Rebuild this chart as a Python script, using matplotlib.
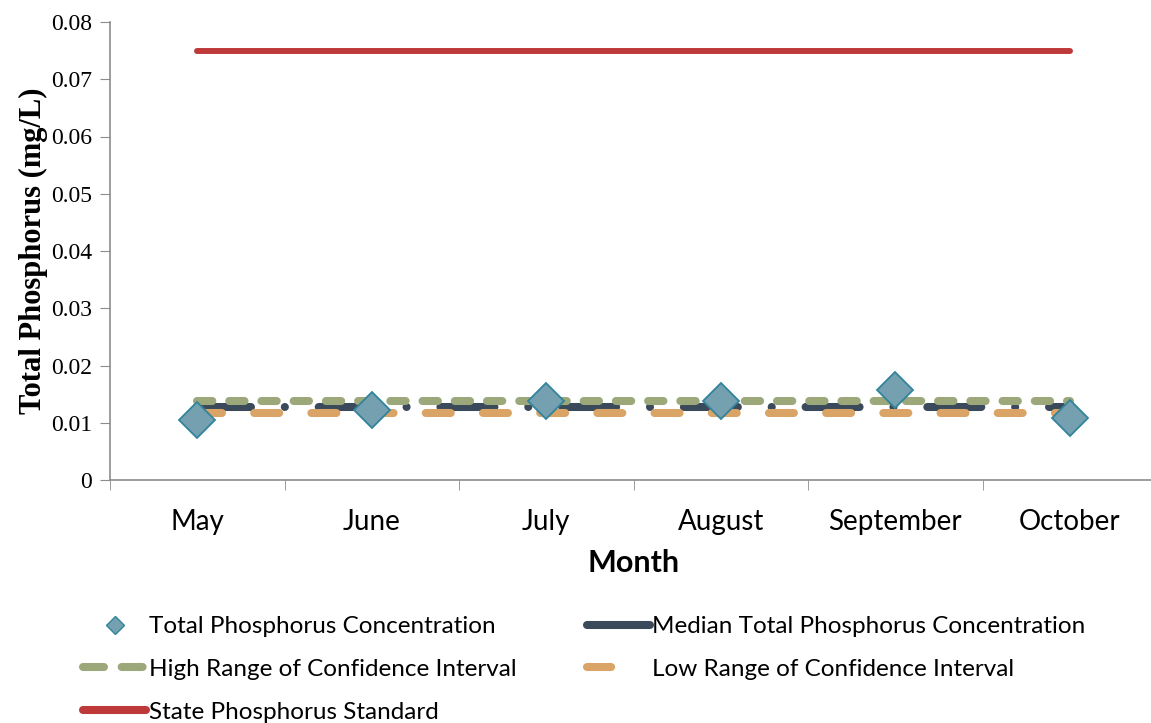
import matplotlib

matplotlib.use("Agg")

import matplotlib.pyplot as plt
import numpy as np

months = ["May", "June", "July", "August", "September", "October"]
tp_conc = [0.0105, 0.0122, 0.0138, 0.0138, 0.0157, 0.0108]
median_tp = [0.0128] * 6
high_ci = [0.0138] * 6
low_ci = [0.0117] * 6
state_std = [0.075] * 6

W, H = 1151, 723
fig = plt.figure(figsize=(W / 100, H / 100), dpi=100)
ax = fig.add_axes([110 / W, 1 - 480 / H, (1157 - 110) / W, (480 - 22) / H])

x = np.arange(len(months))
grey = "#8c8c8c"

c_std, c_hi, c_med, c_lo = "#BE3A3A", "#9CA77A", "#3B4A5A", "#DAA466"
lw = 5.8

h_std, = ax.plot(x, state_std, color=c_std, lw=4.3, solid_capstyle="round",
                 label="State Phosphorus Standard")
h_med, = ax.plot(x, median_tp, color=c_med, lw=lw, dash_capstyle="round",
                 dashes=(6.7, 4.2, 0.01, 4.2), label="Median Total Phosphorus Concentration")
h_hi, = ax.plot(x, high_ci, color=c_hi, lw=lw, dash_capstyle="round",
                dashes=(1.9, 2.1), label="High Range of Confidence Interval")
h_lo, = ax.plot(x, low_ci, color=c_lo, lw=lw, dash_capstyle="round",
                dashes=(3.1, 4.0), label="Low Range of Confidence Interval")
h_tp, = ax.plot(x, tp_conc, ls="none", marker="D", ms=18, mfc="#74A0AF", mec="#31849B",
                mew=1.3, label="Total Phosphorus Concentration", zorder=5)

ax.set_xlim(-0.5, len(months) - 0.5)
ax.set_ylim(0, 0.08)
ax.set_yticks(np.arange(0, 0.081, 0.01))
ax.set_yticklabels(["0"] + [f"{v:.2f}" for v in np.arange(0.01, 0.081, 0.01)],
                   family="Liberation Serif", fontsize=17)
ax.set_xticks(x)
ax.set_xticklabels(months, family="Lato", fontsize=20)
ax.set_xticks(np.arange(-0.5, len(months)), minor=True)
ax.tick_params(axis="x", which="major", length=0, pad=21)
ax.tick_params(axis="x", which="minor", length=7, color=grey)
ax.tick_params(axis="y", length=7, color=grey, pad=6)

for s in ["top", "right"]:
    ax.spines[s].set_visible(False)
for s in ["left", "bottom"]:
    ax.spines[s].set_color(grey)
    ax.spines[s].set_linewidth(1.2)

ax.set_ylabel("Total Phosphorus (mg/L)", family="Liberation Serif", fontsize=22,
              fontweight="bold", labelpad=2)
ax.set_xlabel("Month", family="Lato", fontsize=22, fontweight="bold", labelpad=10)

# legend proxies so each handle looks like the reference key
leg_tp = plt.Line2D([], [], ls="none", marker="D", ms=9, mfc="#74A0AF", mec="#31849B")
leg_hi = plt.Line2D([], [], color=c_hi, lw=lw, dash_capstyle="round", dashes=(2.6, 2.2))
leg_std = plt.Line2D([], [], color=c_std, lw=lw, solid_capstyle="round")
leg_med = plt.Line2D([], [], color=c_med, lw=lw, solid_capstyle="round")
leg_lo = plt.Line2D([], [], color=c_lo, lw=lw, dash_capstyle="round", dashes=(3.0, 10))
fig.legend([leg_tp, leg_hi, leg_std, leg_med, leg_lo],
           [h_tp.get_label(), h_hi.get_label(), h_std.get_label(),
            h_med.get_label(), h_lo.get_label()],
           ncol=2, loc="upper left", bbox_to_anchor=(83 / W, 1 - 616 / H),
           borderaxespad=0, borderpad=0,
           frameon=False, prop={"family": "Lato", "size": 17.5},
           handlelength=2.6, handletextpad=0.1, columnspacing=2.9, labelspacing=0.9)

fig.savefig("out.png", dpi=100, facecolor="white")
